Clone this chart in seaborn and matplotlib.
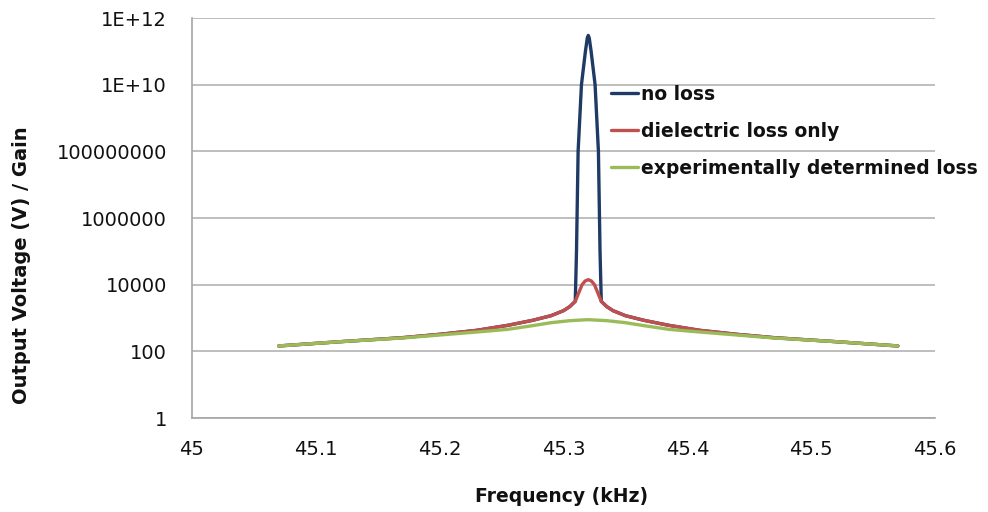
import numpy as np
import pandas as pd
import matplotlib
matplotlib.use("Agg")
import matplotlib.pyplot as plt
import seaborn as sns
from matplotlib.ticker import FixedLocator, FixedFormatter, NullLocator

# ---- data ----
series_names = ["no loss", "dielectric loss only", "experimentally determined loss"]
series_colors = ["#1F3A64", "#C0504D", "#9BBB59"]

freq_no_loss = [45.07, 45.12, 45.17, 45.20, 45.23, 45.255, 45.275, 45.29, 45.30, 45.305,
                45.3095, 45.3105, 45.3118, 45.3145, 45.3177, 45.3192, 45.32,
                45.3208, 45.3223, 45.3255, 45.3282, 45.3295, 45.3305,
                45.335, 45.34, 45.35, 45.365, 45.385, 45.41, 45.44, 45.47, 45.52, 45.57]
gain_no_loss = [145, 195, 257, 324, 427, 603, 851, 1175, 1660, 2188,
                3162, 1e5, 1e8, 1e10, 1e11, 2.5e11, 3e11,
                2.5e11, 1e11, 1e10, 1e8, 1e5, 3162,
                2188, 1660, 1175, 851, 603, 427, 324, 257, 195, 145]

freq_dielectric = [45.07, 45.12, 45.17, 45.20, 45.23, 45.255, 45.275, 45.29, 45.30, 45.305,
                   45.3095, 45.315, 45.3175, 45.32, 45.3225, 45.325, 45.3305,
                   45.335, 45.34, 45.35, 45.365, 45.385, 45.41, 45.44, 45.47, 45.52, 45.57]
gain_dielectric = [145, 195, 257, 324, 427, 603, 851, 1175, 1660, 2188,
                   3162, 10000, 12900, 14125, 12900, 10000, 3162,
                   2188, 1660, 1175, 851, 603, 427, 324, 257, 195, 145]

freq_experimental = [45.07, 45.12, 45.17, 45.20, 45.23, 45.255, 45.275, 45.29, 45.305, 45.32,
                     45.335, 45.35, 45.365, 45.385, 45.41, 45.44, 45.47, 45.52, 45.57]
gain_experimental = [145, 195, 251, 309, 380, 457, 589, 724, 832, 891,
                     832, 724, 589, 457, 380, 309, 251, 195, 145]

y_ticks = [1, 100, 10000, 1000000, 100000000, 1e10, 1e12]
y_tick_labels = ["1", "100", "10000", "1000000", "100000000", "1E+10", "1E+12"]
x_ticks = [45, 45.1, 45.2, 45.3, 45.4, 45.5, 45.6]
x_tick_labels = ["45", "45.1", "45.2", "45.3", "45.4", "45.5", "45.6"]

df = pd.concat([
    pd.DataFrame({"freq": freq_no_loss, "gain": gain_no_loss, "series": series_names[0]}),
    pd.DataFrame({"freq": freq_dielectric, "gain": gain_dielectric, "series": series_names[1]}),
    pd.DataFrame({"freq": freq_experimental, "gain": gain_experimental, "series": series_names[2]}),
], ignore_index=True)

sns.set_style("white")
plt.rcParams["font.family"] = ["DejaVu Sans"]

fig = plt.figure(figsize=(9.88, 5.12), dpi=100)
ax = fig.add_axes([192 / 988, 1 - 418 / 512, (935 - 192) / 988, (418 - 18) / 512])

sns.lineplot(data=df, x="freq", y="gain", hue="series", hue_order=series_names,
             palette=series_colors, estimator=None, sort=True, linewidth=2.4, ax=ax,
             legend=True)

ax.set_yscale("log")
ax.set_ylim(1, 1e12)
ax.set_xlim(45, 45.6)
ax.yaxis.set_major_locator(FixedLocator(y_ticks))
ax.yaxis.set_major_formatter(FixedFormatter(y_tick_labels))
ax.yaxis.set_minor_locator(NullLocator())
ax.xaxis.set_major_locator(FixedLocator(x_ticks))
ax.xaxis.set_major_formatter(FixedFormatter(x_tick_labels))

ax.grid(axis="y", color="#B3B3B3", linewidth=1.2)
ax.grid(axis="x", visible=False)
ax.set_axisbelow(True)
for s in ["top", "right"]:
    ax.spines[s].set_visible(False)
for s in ["left", "bottom"]:
    ax.spines[s].set_color("#A6A6A6")
    ax.spines[s].set_linewidth(1.2)

ax.tick_params(axis="both", which="major", direction="out", length=6, width=1.1,
               color="#A6A6A6", labelsize=14, labelcolor="#111111")
ax.tick_params(axis="y", pad=12)
ax.tick_params(axis="x", pad=10)

ax.set_xlabel("")
ax.set_ylabel("")
fig.text(562 / 988, 1 - 497 / 512, "Frequency (kHz)", ha="center", va="center",
         fontsize=13.5, fontweight="bold", color="#111111")
fig.text(22 / 988, 1 - 265 / 512, "Output Voltage (V) / Gain", ha="center", va="center",
         rotation=90, fontsize=14, fontweight="bold", color="#111111")

leg = ax.legend(loc="upper left", bbox_to_anchor=(611 / 988, 1 - 85 / 512),
                bbox_transform=fig.transFigure, frameon=False,
                prop={"weight": "bold", "size": 13.5}, handlelength=1.45,
                handletextpad=0.15, labelspacing=0.95, borderaxespad=0, borderpad=0)
for line in leg.get_lines():
    line.set_linewidth(2.4)
for t in leg.get_texts():
    t.set_color("#111111")

fig.savefig("out.png", dpi=100)
